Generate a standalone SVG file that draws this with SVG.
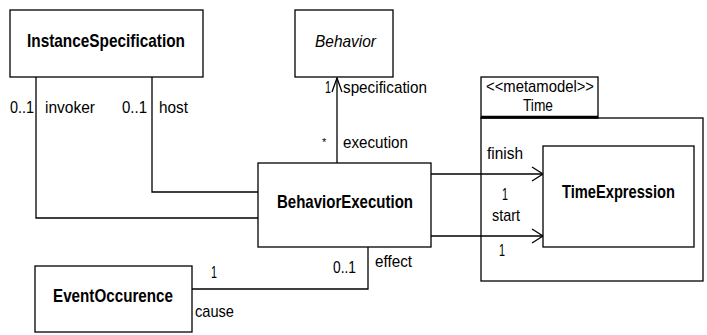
<svg xmlns="http://www.w3.org/2000/svg" width="707" height="335" viewBox="0 0 707 335">
<style>
.box{fill:#fff;stroke:#000;stroke-width:1.3}
.ln{fill:none;stroke:#000;stroke-width:1.3}
.t{font-family:"Liberation Sans",Arial,sans-serif;font-size:17px;fill:#000}
.b{font-family:"Liberation Sans",Arial,sans-serif;font-size:19px;font-weight:bold;fill:#000;text-anchor:middle}
.i{font-family:"Liberation Sans",Arial,sans-serif;font-size:17px;font-style:italic;fill:#000;text-anchor:middle}
</style>
<rect width="707" height="335" fill="#fff"/>
<g id="Time">
<rect class="box" x="481" y="118" width="222" height="163"/>
<rect class="box" x="481" y="77" width="117" height="41"/>
<line x1="481" y1="117" x2="598" y2="117" stroke="#000" stroke-width="2.5"/>
<text class="t" x="486" y="92" textLength="108" lengthAdjust="spacingAndGlyphs">&lt;&lt;metamodel&gt;&gt;</text>
<text class="t" x="523" y="111" textLength="30" lengthAdjust="spacingAndGlyphs">Time</text>
</g>
<g id="connectors">
<polyline class="ln" points="36,77 36,218 258,218"/>
<polyline class="ln" points="152,77 152,192 258,192"/>
<line class="ln" x1="337" y1="163" x2="337" y2="78"/>
<polyline class="ln" points="332,92 337,78 342,92"/>
<line class="ln" x1="431" y1="174" x2="543" y2="174"/>
<polyline class="ln" points="532,167 543,174 532,181"/>
<line class="ln" x1="431" y1="236" x2="543" y2="236"/>
<polyline class="ln" points="532,229 543,236 532,243"/>
<polyline class="ln" points="192,289 368,289 368,247"/>
<text class="t" x="10" y="113" textLength="24" lengthAdjust="spacingAndGlyphs">0..1</text>
<text class="t" x="45" y="113" textLength="50" lengthAdjust="spacingAndGlyphs">invoker</text>
<text class="t" x="122" y="113" textLength="25" lengthAdjust="spacingAndGlyphs">0..1</text>
<text class="t" x="159" y="113" textLength="29" lengthAdjust="spacingAndGlyphs">host</text>
<text class="t" x="325" y="93" textLength="6" lengthAdjust="spacingAndGlyphs">1</text>
<text class="t" x="343" y="93" textLength="84" lengthAdjust="spacingAndGlyphs">specification</text>
<text class="t" x="322" y="146" style="font-size:11px">*</text>
<text class="t" x="343" y="148" textLength="65" lengthAdjust="spacingAndGlyphs">execution</text>
<text class="t" x="487" y="159" textLength="36" lengthAdjust="spacingAndGlyphs">finish</text>
<text class="t" x="502" y="200" textLength="6" lengthAdjust="spacingAndGlyphs">1</text>
<text class="t" x="492" y="221" textLength="28" lengthAdjust="spacingAndGlyphs">start</text>
<text class="t" x="499" y="256" textLength="6" lengthAdjust="spacingAndGlyphs">1</text>
<text class="t" x="211" y="278" textLength="6" lengthAdjust="spacingAndGlyphs">1</text>
<text class="t" x="333" y="273" textLength="23" lengthAdjust="spacingAndGlyphs">0..1</text>
<text class="t" x="375" y="267" textLength="37" lengthAdjust="spacingAndGlyphs">effect</text>
<text class="t" x="195" y="317" textLength="39" lengthAdjust="spacingAndGlyphs">cause</text>
</g>
<g id="InstanceSpecification">
<rect class="box" x="10" y="10" width="193" height="67"/>
<text class="b" x="106" y="47" textLength="158" lengthAdjust="spacingAndGlyphs">InstanceSpecification</text>
</g>
<g id="Behavior">
<rect class="box" x="295" y="10" width="98" height="67"/>
<text class="i" x="345.5" y="47" textLength="61" lengthAdjust="spacingAndGlyphs">Behavior</text>
</g>
<g id="BehaviorExecution">
<rect class="box" x="258" y="163" width="173" height="84"/>
<text class="b" x="345" y="208" textLength="136" lengthAdjust="spacingAndGlyphs">BehaviorExecution</text>
</g>
<g id="TimeExpression">
<rect class="box" x="543" y="146" width="151" height="101"/>
<text class="b" x="618.5" y="198" textLength="113" lengthAdjust="spacingAndGlyphs">TimeExpression</text>
</g>
<g id="EventOccurence">
<rect class="box" x="35" y="266" width="157" height="66"/>
<text class="b" x="113" y="302" textLength="120" lengthAdjust="spacingAndGlyphs">EventOccurence</text>
</g>
</svg>
